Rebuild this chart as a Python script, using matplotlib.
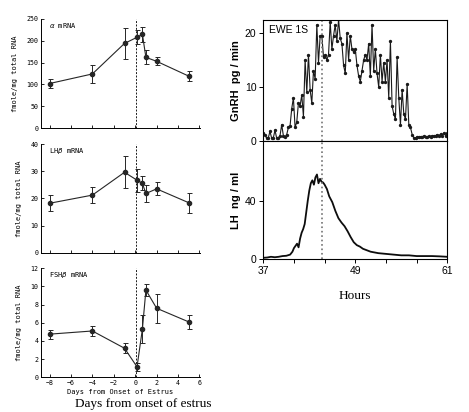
import numpy as np
import matplotlib
matplotlib.use("Agg")
import matplotlib.pyplot as plt

# left: pituitary mRNA vs days from onset of estrus
days = [-8, -4, -1, 0.17, 0.67, 1, 2, 5]
alpha_mean = [102, 124, 194, 208, 215, 162, 153, 119]
alpha_err = [11, 20, 35, 16, 17, 16, 9, 12]
lhb_mean = [18.2, 21.2, 29.6, 26.7, 25.5, 21.8, 23.5, 18.4]
lhb_err = [3.0, 3.0, 5.9, 4.2, 2.6, 3.0, 2.4, 3.6]
fshb_mean = [4.75, 5.1, 3.2, 1.15, 5.3, 9.6, 7.6, 6.1]
fshb_err = [0.5, 0.55, 0.55, 0.45, 1.55, 0.65, 1.6, 0.8]
left_titles = [r"$\alpha$ mRNA", r"LH$\beta$ mRNA", r"FSH$\beta$ mRNA"]
left_ylims = [250, 40, 12]
left_yticks = [[0, 50, 100, 150, 200, 250], [0, 10, 20, 30, 40], [0, 2, 4, 6, 8, 10, 12]]

# right: ewe 1S, GnRH pulses and LH, sampled across 37-61 h
gnrh_v = [1.5, 1.2, 0.5, 0.6, 1.8, 0.5, 0.6, 2.0, 0.5, 0.6, 1.0, 3.0, 1.0, 0.8, 1.2,
          2.5, 2.8, 6.0, 8.0, 2.5, 3.5, 7.0, 6.5, 8.5, 4.5, 15.0, 9.0, 16.0, 9.5, 7.0,
          13.0, 11.5, 21.5, 14.5, 19.5, 19.5, 15.5, 16.0, 15.0, 16.0, 22.0, 17.0, 19.5,
          21.5, 18.5, 22.5, 19.0, 18.0, 14.0, 12.5, 20.0, 15.0, 19.5, 17.0, 16.5, 17.0,
          14.0, 12.0, 11.0, 13.0, 15.0, 16.0, 15.0, 18.0, 12.0, 21.5, 13.0, 17.0, 12.5,
          10.0, 16.0, 11.0, 14.5, 11.0, 15.0, 8.0, 18.5, 6.5, 5.0, 4.0, 15.5, 8.0, 3.0,
          9.5, 5.0, 4.0, 10.5, 3.0, 2.5, 1.2, 0.6, 0.5, 0.8, 0.7, 0.8, 0.8, 0.9, 0.8,
          0.8, 0.9, 0.8, 1.0, 0.9, 1.0, 1.2, 1.0, 1.3, 0.9, 1.5, 1.0, 1.4]
gnrh_t = np.linspace(37, 61, len(gnrh_v))

lh_t = [37.0, 37.5, 38.0, 38.5, 39.0, 39.5, 40.0, 40.5, 40.8, 41.0, 41.2, 41.4, 41.6,
        41.8, 42.0, 42.2, 42.4, 42.6, 42.8, 43.0, 43.2, 43.4, 43.6, 43.8, 44.0, 44.2,
        44.4, 44.6, 44.8, 45.0, 45.3, 45.6, 46.0, 46.4, 46.8, 47.2, 47.6, 48.0, 48.4,
        48.8, 49.2, 49.6, 50.0, 50.5, 51.0, 51.5, 52.0, 53.0, 54.0, 55.0, 56.0, 57.0,
        58.0, 59.0, 60.0, 61.0]
lh_v = [0.8, 1.0, 1.5, 1.2, 1.5, 2.0, 2.2, 3.0, 5.0, 7.5, 9.0, 10.5, 8.0, 14.0, 18.0,
        20.5, 24.0, 32.0, 40.0, 47.0, 52.0, 54.0, 51.0, 56.0, 58.0, 52.0, 55.0, 53.0,
        52.5, 51.0, 48.0, 43.0, 39.0, 33.0, 28.0, 25.0, 22.5, 19.0, 15.0, 11.5, 9.5,
        8.5, 7.0, 6.0, 5.0, 4.5, 4.0, 3.5, 3.0, 2.5, 2.5, 2.0, 2.0, 2.0, 1.8, 1.5]
estrus_hour = 44.7

fig = plt.figure(figsize=(4.69, 4.12), dpi=100)
mono = "DejaVu Sans Mono"

left_pos = [[0.0874, 0.6893, 0.339, 0.2646],
            [0.0874, 0.3866, 0.339, 0.2638],
            [0.0874, 0.0842, 0.339, 0.2646]]
series = [(alpha_mean, alpha_err), (lhb_mean, lhb_err), (fshb_mean, fshb_err)]
for i in range(3):
    ax = fig.add_axes(left_pos[i])
    m, e = series[i]
    ax.errorbar(days, m, yerr=e, fmt="o-", color="0.15", ms=3, lw=0.8,
                elinewidth=0.7, capsize=1.8, capthick=0.7)
    ax.axvline(0.1, color="0.1", ls=(0, (2, 1.5)), lw=0.7)
    ax.set_xlim(-8.8, 6.05)
    ax.set_ylim(0, left_ylims[i])
    ax.set_yticks(left_yticks[i])
    ax.set_xticks([-8, -6, -4, -2, 0, 2, 4, 6])
    for s in ["top", "right"]:
        ax.spines[s].set_visible(False)
    for s in ["left", "bottom"]:
        ax.spines[s].set_linewidth(0.7)
    ax.tick_params(direction="in", length=2, width=0.6, labelsize=4.8, pad=2)
    for lab in ax.get_yticklabels() + ax.get_xticklabels():
        lab.set_family(mono)
    if i < 2:
        ax.set_xticklabels([])
    else:
        ax.set_xlabel("Days from Onset of Estrus", family=mono, fontsize=5, labelpad=2)
    ax.set_ylabel("fmole/mg total RNA", family=mono, fontsize=5, labelpad=6)
    ax.text(0.05, 0.985, left_titles[i], transform=ax.transAxes, fontsize=5,
            family=mono, va="top", ha="left")

# right panels
ax1 = fig.add_axes([0.5614, 0.6578, 0.3923, 0.2937])
ax1.plot(gnrh_t, gnrh_v, "-o", color="0.1", lw=0.8, ms=1.4)
ax1.axvline(estrus_hour, color="0.45", ls=":", lw=1.2)
ax1.set_xlim(37, 61)
ax1.set_ylim(0, 22.4)
ax1.set_yticks([0, 10, 20])
ax1.set_xticks(range(37, 62, 4))
ax1.set_xticklabels([])
ax1.set_ylabel("GnRH  pg / min", fontsize=8, fontweight="bold", family="Liberation Sans", labelpad=3)
ax1.text(0.03, 0.96, "EWE 1S", transform=ax1.transAxes, fontsize=7.5,
         family="Liberation Sans", va="top", ha="left")

ax2 = fig.add_axes([0.5614, 0.3714, 0.3923, 0.2864])
ax2.plot(lh_t, lh_v, "-", color="0.05", lw=1.3)
ax2.axvline(estrus_hour, color="0.45", ls=":", lw=1.2)
ax2.set_xlim(37, 61)
ax2.set_ylim(0, 81)
ax2.set_yticks([0, 40])
ax2.set_xticks(range(37, 62, 4))
ax2.set_xticklabels(["37", "", "", "49", "", "", "61"])
ax2.set_ylabel("LH  ng / ml", fontsize=8, fontweight="bold", family="Liberation Sans", labelpad=3)
ax2.set_xlabel("Hours", fontsize=9.5, family="Liberation Serif", labelpad=10)

for ax in [ax1, ax2]:
    for s in ax.spines.values():
        s.set_linewidth(0.8)
    ax.tick_params(direction="out", length=3, width=0.7, labelsize=7.5, pad=2)
    for lab in ax.get_yticklabels() + ax.get_xticklabels():
        lab.set_family("Liberation Sans")

fig.text(0.305, 0.004, "Days from onset of estrus", fontsize=9.5,
         family="Liberation Serif", ha="center", va="bottom")

fig.savefig("out.png", dpi=100)
